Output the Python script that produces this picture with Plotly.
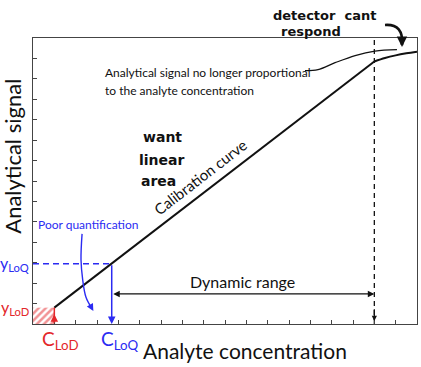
import plotly.graph_objects as go

# ---------------- data ----------------
x_range = [0, 18]
y_range = [0, 14]
x_conc_linear = [1.0, 16.0]
y_signal_linear = [0.8, 12.85]
x_conc_sat = [16.0, 16.5, 17.0, 17.5, 18.0]
y_signal_sat = [12.85, 13.02, 13.15, 13.25, 13.33]
c_lod = 1.0
y_lod = 0.8
c_loq = 3.69
y_loq = 2.95
c_upper = 16.0
dyn_range_y = 1.47
connector_x = [12.75, 13.36, 14.16, 15.10, 16.03, 17.06]
connector_y = [12.40, 12.45, 12.79, 13.14, 13.36, 13.43]
poor_q_x = [2.30, 2.25, 2.33, 2.48, 2.75]
poor_q_y = [4.41, 3.14, 2.16, 1.32, 0.78]
poor_q_tip = [2.83, 0.64]

BLUE = "#2b2bf2"
RED = "#e3262a"
BLACK = "#111111"
SANS = "Lato"
HAND = "DejaVu Sans"

fig = go.Figure()

# hatched LoD box
fig.add_trace(go.Scatter(
    x=[0, c_lod, c_lod, 0, 0], y=[0, 0, y_lod, y_lod, 0],
    mode="lines", fill="toself", fillcolor="white",
    fillpattern=dict(shape="/", fgcolor=RED, bgcolor="white", size=5, solidity=0.5),
    line=dict(width=0), hoverinfo="skip", showlegend=False))

# calibration curve
fig.add_trace(go.Scatter(x=x_conc_linear, y=y_signal_linear, mode="lines",
                         line=dict(color=BLACK, width=2), showlegend=False))
fig.add_trace(go.Scatter(x=x_conc_sat, y=y_signal_sat, mode="lines",
                         line=dict(color=BLACK, width=2, shape="spline"), showlegend=False))

# vertical dashed line at upper limit
fig.add_trace(go.Scatter(x=[c_upper, c_upper], y=y_range, mode="lines",
                         line=dict(color=BLACK, width=1.3, dash="5px,4px"), showlegend=False))

# LoQ dashed horizontal
fig.add_trace(go.Scatter(x=[0, c_loq], y=[y_loq, y_loq], mode="lines",
                         line=dict(color=BLUE, width=1.5, dash="6px,4px"), showlegend=False))

# red LoD vertical
fig.add_trace(go.Scatter(x=[c_lod, c_lod], y=[0, y_lod], mode="lines",
                         line=dict(color=RED, width=1.5), showlegend=False))

# connector line
fig.add_trace(go.Scatter(x=connector_x, y=connector_y, mode="lines",
                         line=dict(color=BLACK, width=1.3, shape="spline"), showlegend=False))

# poor quantification curve
fig.add_trace(go.Scatter(x=poor_q_x, y=poor_q_y, mode="lines",
                         line=dict(color=BLUE, width=1.4, shape="spline"), showlegend=False))

ann = []
# CLoQ arrow
ann.append(dict(x=c_loq, y=0, ax=c_loq, ay=y_loq, xref="x", yref="y", axref="x", ayref="y",
                text="", showarrow=True, arrowhead=2, arrowsize=1, arrowwidth=1.5, arrowcolor=BLUE))
# red arrow
ann.append(dict(x=c_lod, y=y_lod * 0.6, ax=c_lod, ay=0, xref="x", yref="y", axref="x", ayref="y",
                text="", showarrow=True, arrowhead=2, arrowsize=1, arrowwidth=1.5, arrowcolor=RED))
# dynamic range
ann.append(dict(x=c_upper, y=dyn_range_y, ax=c_loq, ay=dyn_range_y, xref="x", yref="y",
                axref="x", ayref="y", text="", showarrow=True, arrowhead=2, arrowside="end+start",
                arrowsize=1, arrowwidth=1.3, arrowcolor=BLACK))
# small arrow at bottom of dashed line
ann.append(dict(x=c_upper, y=0.15, ax=c_upper, ay=0.8, xref="x", yref="y", axref="x", ayref="y",
                text="", showarrow=True, arrowhead=2, arrowsize=0.8, arrowwidth=1.3, arrowcolor=BLACK))
# poor quantification arrowhead
ann.append(dict(x=poor_q_tip[0], y=poor_q_tip[1], ax=-4, ay=-7, xref="x", yref="y",
                text="", showarrow=True, arrowhead=2, arrowsize=1, arrowwidth=1.4, arrowcolor=BLUE))
# handwritten arrowhead
ann.append(dict(x=0.9609, y=0.9685, ax=0, ay=-9, xref="paper", yref="paper",
                text="", showarrow=True, arrowhead=2, arrowsize=0.8, arrowwidth=2.6, arrowcolor=BLACK))

def txt(text, x, y, size, color=BLACK, family=SANS, xref="x", yref="y", xanchor="center",
        yanchor="middle", angle=0, weight="normal"):
    ann.append(dict(text=text, x=x, y=y, xref=xref, yref=yref, xanchor=xanchor, yanchor=yanchor,
                    showarrow=False, textangle=angle,
                    font=dict(family=family, size=size, color=color, weight=weight)))

txt("Analytical signal no longer proportional", 0.1823, 0.881, 12, xref="paper", yref="paper", xanchor="left")
txt("to the analyte concentration", 0.1823, 0.8147, 12, xref="paper", yref="paper", xanchor="left")
txt("Calibration curve", 7.83, 7.21, 15, angle=-37.7)
txt("Poor quantification", 2.58, 4.85, 12, color=BLUE)
txt("Dynamic range", 9.80, 2.06, 16)
txt("want", 6.05, 9.17, 14, family=HAND, weight="bold")
txt("linear", 6.05, 8.04, 14, family=HAND, weight="bold")
txt("area", 5.86, 7.01, 14, family=HAND, weight="bold")
txt("detector  cant", 0.760, 1.080, 13, family=HAND, xref="paper", yref="paper", weight="bold")
txt("respond", 0.724, 1.021, 13, family=HAND, xref="paper", yref="paper", weight="bold")
txt("y<sub>LoQ</sub>", -0.006, y_loq, 16, color=BLUE, xref="paper", xanchor="right")
txt("y<sub>LoD</sub>", -0.006, y_lod, 16, color=RED, xref="paper", xanchor="right")
txt("C<sub>LoD</sub>", 1.31, -0.056, 19, color=RED, yref="paper")
txt("C<sub>LoQ</sub>", 4.06, -0.056, 19, color=BLUE, yref="paper")
txt("Analyte concentration", 0.552, -0.091, 21, xref="paper", yref="paper")
txt("Analytical signal", -0.052, 0.585, 22, xref="paper", yref="paper", angle=-90)

shapes = [dict(type="path", xref="paper", yref="paper",
               path="M 0.9167,1.0455 Q 0.966,1.05 0.9609,0.975",
               line=dict(color=BLACK, width=2.6))]

axis_common = dict(showgrid=False, zeroline=False, showticklabels=False, ticks="inside",
                   ticklen=4, tickwidth=1, tickcolor="#444", showline=True, linecolor="#444",
                   linewidth=1, mirror=True, dtick=1, tick0=0)

fig.update_layout(
    width=421, height=367,
    margin=dict(l=33, r=4, t=38, b=43),
    paper_bgcolor="white", plot_bgcolor="white",
    xaxis=dict(range=x_range, **axis_common),
    yaxis=dict(range=y_range, **axis_common),
    annotations=ann, shapes=shapes, showlegend=False,
)

fig.write_html("out.html", config={"displayModeBar": False},
               post_script="document.body.style.margin='0px';document.body.style.overflow='hidden';")
